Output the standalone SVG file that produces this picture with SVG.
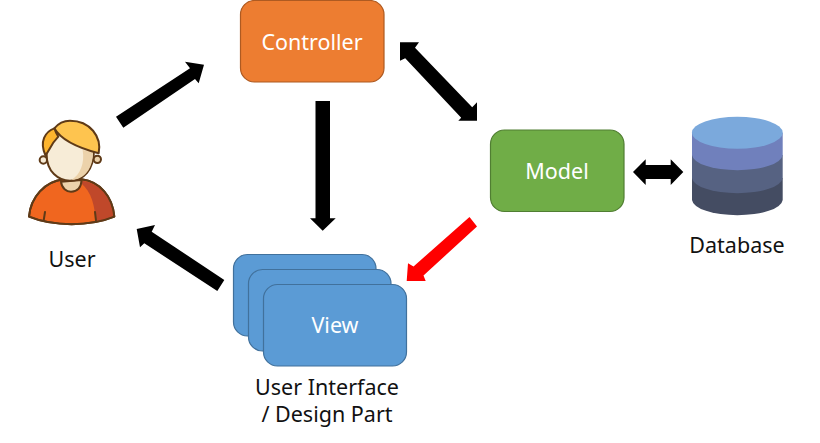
<svg xmlns="http://www.w3.org/2000/svg" width="820" height="443" viewBox="0 0 820 443">
<style>
text{font-family:"Noto Sans","Open Sans","Liberation Sans",sans-serif;font-size:21.5px;text-anchor:middle}
.w{fill:#fff}.k{fill:#111}
.ol{stroke:#5f3a17;stroke-width:6;stroke-linejoin:round;stroke-linecap:round}
.vw{fill:#5b9bd5;stroke:#41719c;stroke-width:1.2}
</style>
<rect width="820" height="443" fill="#fff"/>
<g id="connectors">
<polygon points="116,116.7 190,68.3 185,61.7 204,64.7 198.7,83.3 195,79 123.3,127.7" fill="#000"/>
<polygon points="224.3,280 151.7,231.7 155,225 136.7,229 140,247.3 144.3,243.3 217.3,291" fill="#000"/>
<polygon points="315.5,101 330,101 330,218.3 335.7,218.3 322.7,230.7 310,218.3 315.5,218.3" fill="#000"/>
<polygon points="400,42.3 419,42.3 415,47.8 472.2,107.3 477,102.3 477,120.7 458.3,120.7 461.2,117.8 405.2,58.3 400,60.7" fill="#000"/>
<polygon points="633,172 645.7,159.3 645.7,165 670.7,165 670.7,159.3 683.3,172 670.7,185 670.7,179 645.7,179 645.7,185" fill="#000"/>
<polygon points="477,226.5 423.5,275.5 425.7,281 406.7,281 408,263.3 413.5,266.5 469.5,217" fill="#f00"/>
</g>
<g id="user">
<g transform="translate(10 100) scale(.3333)">
<path class="ol" fill="#f0661f" d="M57,350C62,290 105,245 160,238H215C270,245 308,290 313,350C240,380 130,380 57,350Z"/>
<path fill="#c0482a" d="M215,242C270,248 306,290 310,348C292,357 275,362 256,365C256,320 245,275 212,248Z"/>
<path class="ol" fill="none" d="M57,350C62,290 105,245 160,238H215C270,245 308,290 313,350C240,380 130,380 57,350Z"/>
<path class="ol" fill="none" d="M105,336L101,362M255,336L258,362"/>
<path class="ol" fill="#ecd2aa" d="M153,245C155,265 170,275 183,275C200,275 213,265 215,240Z"/>
<circle class="ol" cx="100" cy="180" r="11" fill="#f7ecd7"/>
<circle class="ol" cx="262" cy="178" r="11" fill="#ecd2aa"/>
<path class="ol" fill="#f7ecd7" d="M110,165C110,215 145,242 180,242C220,242 252,210 252,150C252,110 200,90 165,95C130,100 110,130 110,165Z"/>
<path fill="#ecd2aa" d="M218,150C225,190 210,225 185,239C222,239 249,208 249,155Z"/>
<path class="ol" fill="#fec44f" d="M133,85C150,115 190,140 266,160C276,110 240,62 180,62C160,62 145,70 133,85Z"/>
<path class="ol" fill="#fdb42e" d="M133,85C105,95 88,125 106,165C118,155 120,135 145,110C140,103 136,95 133,85Z"/>
</g>
<text class="k" x="72" y="267">User</text>
</g>
<g id="controller">
<rect x="240.5" y="0.5" width="143.5" height="81.5" rx="14" fill="#ed7d31" stroke="#ae5a21" stroke-width="1.2"/>
<text class="w" x="312" y="50">Controller</text>
</g>
<g id="model">
<rect x="490.5" y="130" width="133.5" height="81.5" rx="14" fill="#70ad47" stroke="#507e32" stroke-width="1.2"/>
<text class="w" x="557" y="179">Model</text>
</g>
<g id="database">
<path fill="#444c62" d="M692,178V200A45.4,16 0 0 0 782.7,200V178Z"/>
<path fill="#566282" d="M692,155V178A45.4,16 0 0 0 782.7,178V155Z"/>
<path fill="#7080bc" d="M692,132.7V155A45.4,16 0 0 0 782.7,155V132.7Z"/>
<ellipse cx="737.3" cy="132.7" rx="45.4" ry="16" fill="#7ba9dc"/>
<text class="k" x="737" y="253">Database</text>
</g>
<g id="view">
<rect class="vw" x="233.5" y="254.5" width="142.5" height="81.5" rx="14"/>
<rect class="vw" x="248.5" y="269.5" width="142.5" height="81.5" rx="14"/>
<rect class="vw" x="263.5" y="284.5" width="143" height="81.5" rx="14"/>
<text class="w" x="335" y="333">View</text>
<text class="k" x="327" y="395">User Interface</text>
<text class="k" x="327" y="422">/ Design Part</text>
</g>
</svg>
